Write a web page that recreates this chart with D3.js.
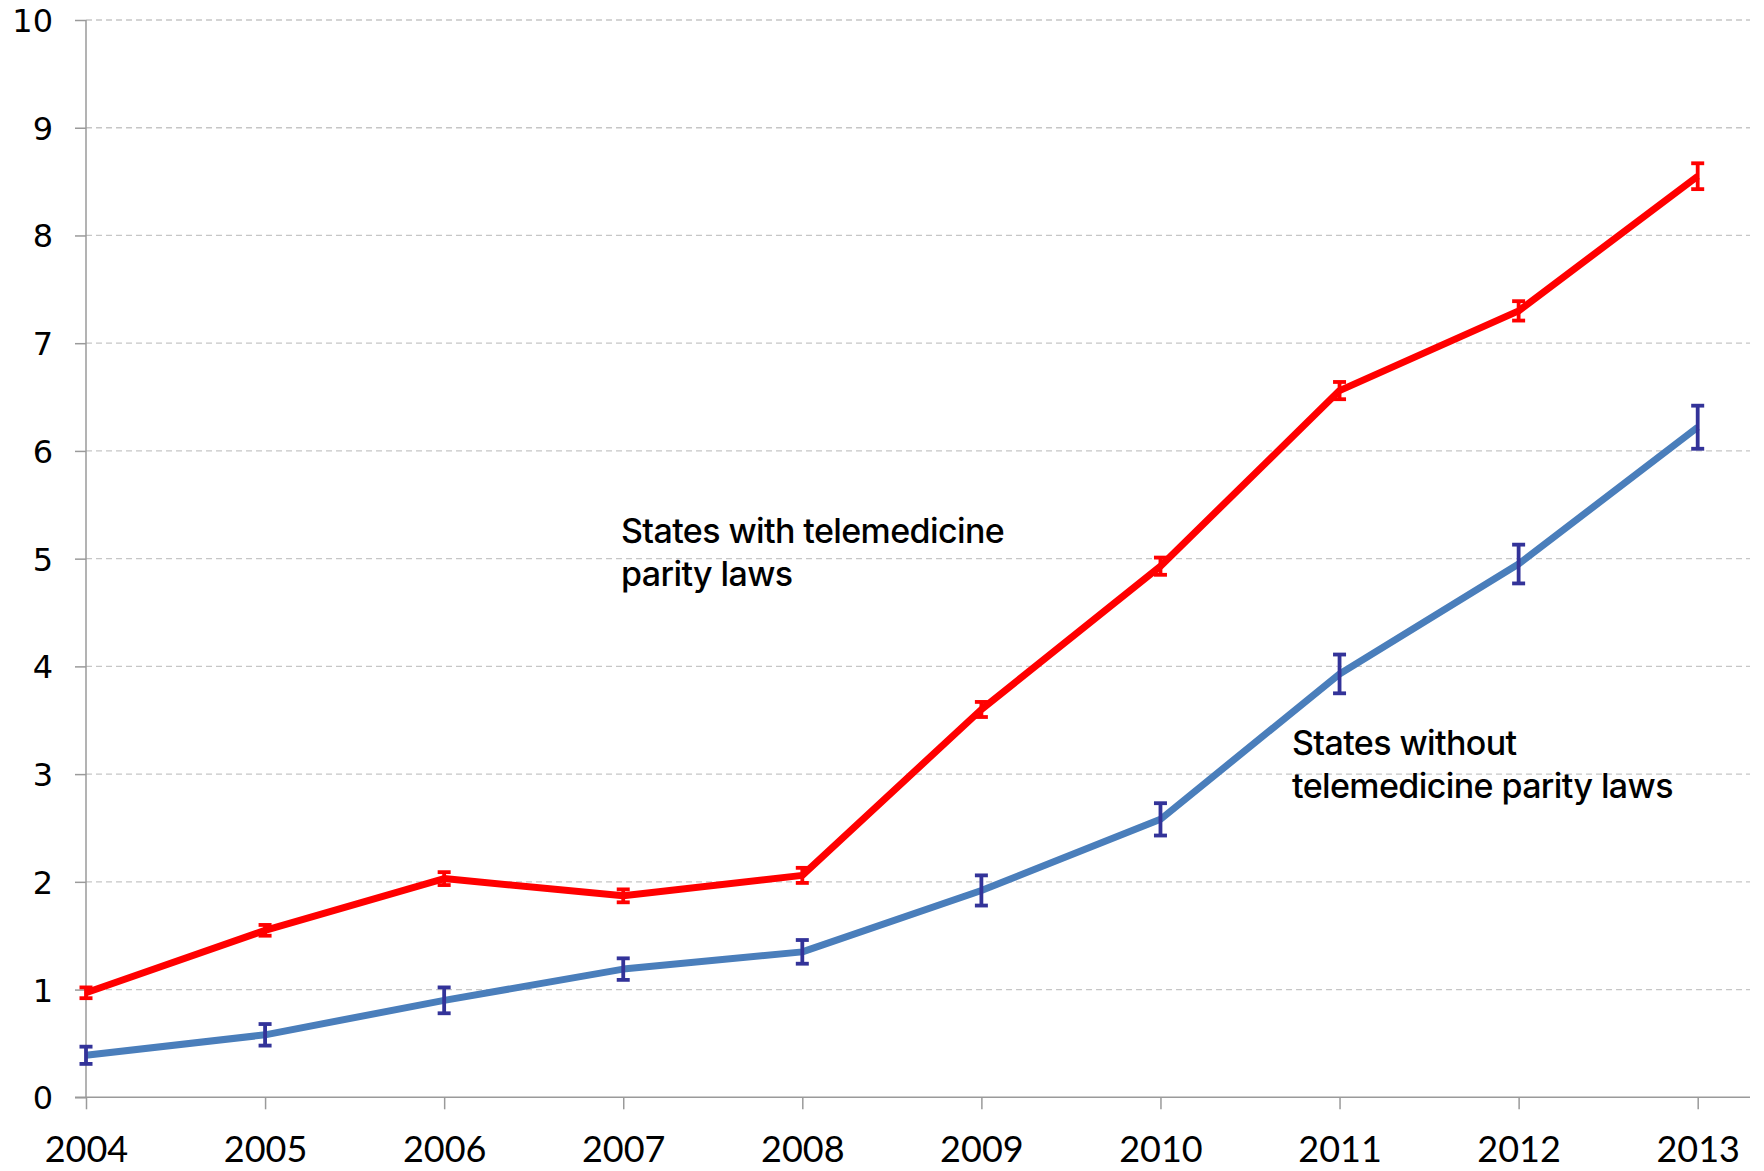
<!DOCTYPE html>
<html><head><meta charset="utf-8">
<script src="https://cdn.jsdelivr.net/npm/d3@7"></script>
<style>html,body{margin:0;padding:0;background:#fff;}svg{display:block;}</style>
</head><body>
<svg id="chart" width="1764" height="1171"></svg>
<script>
const years = [2004, 2005, 2006, 2007, 2008, 2009, 2010, 2011, 2012, 2013];
const withParity = [0.97, 1.55, 2.03, 1.87, 2.06, 3.60, 4.93, 6.56, 7.30, 8.55];
const withParityErr = [0.05, 0.05, 0.06, 0.06, 0.07, 0.07, 0.08, 0.08, 0.09, 0.12];
const withoutParity = [0.39, 0.58, 0.90, 1.19, 1.35, 1.92, 2.58, 3.93, 4.95, 6.22];
const withoutParityErr = [0.08, 0.10, 0.12, 0.10, 0.11, 0.14, 0.15, 0.18, 0.18, 0.20];
const yTicks = [0, 1, 2, 3, 4, 5, 6, 7, 8, 9, 10];
const labelWith = ["States with telemedicine", "parity laws"];
const labelWithout = ["States without", "telemedicine parity laws"];

const svg = d3.select("#chart");
const x = d3.scaleLinear().domain([2004, 2013]).range([86, 1697.7]);
const y = d3.scaleLinear().domain([0, 10]).range([1097.3, 20]);
const right = 1750;

// gridlines
svg.append("g").selectAll("line").data(yTicks.filter(d => d > 0)).join("line")
  .attr("x1", 86).attr("x2", right)
  .attr("y1", d => y(d)).attr("y2", d => y(d))
  .attr("stroke", "#c6c6c6").attr("stroke-width", 1.3).attr("stroke-dasharray", "6,4");

// y axis
const yAxis = svg.append("g").attr("transform", "translate(86,0)")
  .call(d3.axisLeft(y).tickValues(yTicks).tickSize(11).tickPadding(22).tickFormat(d3.format("d")));
yAxis.select(".domain").attr("stroke", "#9a9a9a").attr("stroke-width", 1.5).attr("d", `M0,${y(10)}V${y(0)}`);
yAxis.selectAll(".tick line").attr("stroke", "#9a9a9a").attr("stroke-width", 1.5);
yAxis.selectAll(".tick text").attr("font-family", "DejaVu Sans, sans-serif")
  .attr("font-size", 32).attr("fill", "#000").attr("x", -33).attr("dy", "0.36em");

// x axis
const xAxis = svg.append("g").attr("transform", `translate(0,${y(0)})`)
  .call(d3.axisBottom(x).tickValues(years).tickSize(12).tickPadding(20).tickFormat(d3.format("d")));
xAxis.select(".domain").attr("stroke", "#9a9a9a").attr("stroke-width", 1.5).attr("d", `M75,0H${right}`);
xAxis.selectAll(".tick line").attr("stroke", "#9a9a9a").attr("stroke-width", 1.5);
xAxis.selectAll(".tick text").attr("font-family", "Lato, Carlito, sans-serif")
  .attr("font-size", 36).attr("fill", "#000").attr("y", 65).attr("dy", 0);

const line = d3.line().x((d, i) => x(years[i])).y(d => y(d));

function series(vals, errs, color, errColor) {
  svg.append("path").datum(vals).attr("d", line)
    .attr("fill", "none").attr("stroke", color).attr("stroke-width", 7)
    .attr("stroke-linejoin", "round");
  const g = svg.append("g").attr("stroke", errColor).attr("stroke-width", 3.8);
  const data = vals.map((v, i) => ({x: years[i], v, e: errs[i]}));
  g.selectAll(".stem").data(data).join("line")
    .attr("x1", d => x(d.x)).attr("x2", d => x(d.x))
    .attr("y1", d => y(d.v + d.e)).attr("y2", d => y(d.v - d.e));
  g.selectAll(".capT").data(data).join("line")
    .attr("x1", d => x(d.x) - 6.5).attr("x2", d => x(d.x) + 6.5)
    .attr("y1", d => y(d.v + d.e)).attr("y2", d => y(d.v + d.e));
  g.selectAll(".capB").data(data).join("line")
    .attr("x1", d => x(d.x) - 6.5).attr("x2", d => x(d.x) + 6.5)
    .attr("y1", d => y(d.v - d.e)).attr("y2", d => y(d.v - d.e));
}
series(withoutParity, withoutParityErr, "#4a7ebb", "#333399");
series(withParity, withParityErr, "#ff0000", "#ff0000");

function label(lines, x0, y0) {
  const t = svg.append("text").attr("font-family", "Inter, sans-serif").attr("font-size", 34)
    .attr("font-weight", 500).attr("letter-spacing", "-0.6px").attr("fill", "#000");
  lines.forEach((s, i) => t.append("tspan").attr("x", x0).attr("y", y0 + i * 43).text(s));
}
label(labelWith, 621, 543);
label(labelWithout, 1292, 755);
</script>
</body></html>
